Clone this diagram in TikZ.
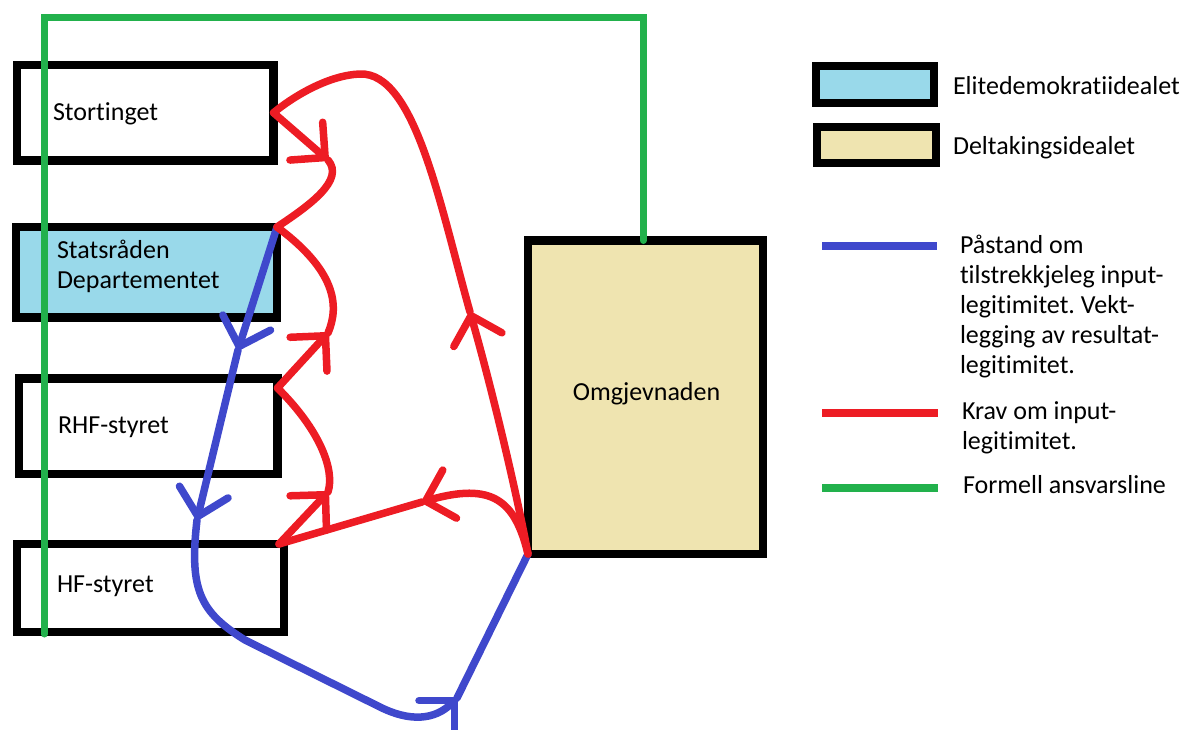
\documentclass[tikz,border=0pt]{standalone}
\usepackage{fontspec}
\setmainfont{Carlito}[Ligatures={NoCommon,NoContextual}]
\usetikzlibrary{arrows.meta}

\definecolor{pRed}{HTML}{ED1C24}
\definecolor{pBlue}{HTML}{3F48CC}
\definecolor{pGreen}{HTML}{22B14C}
\definecolor{eliteFill}{HTML}{99D9EA}
\definecolor{deltaFill}{HTML}{EFE4B0}

\tikzset{
  paintbarb/.tip={Straight Barb[length=25pt, width=50pt, round]},
  box/.style={draw=black, line width=8.5pt, inner sep=0pt, outer sep=0pt, line join=miter},
  txt/.style={inner sep=0pt, outer sep=0pt, anchor=base west, font=\fontsize{26}{30}\selectfont},
  redline/.style={draw=pRed, line width=7.5pt, line cap=round, line join=round},
  blueline/.style={draw=pBlue, line width=7.5pt, line cap=round, line join=round},
  greenline/.style={draw=pGreen, line width=7pt, line cap=round, line join=miter},
  keyline/.style={line width=8pt, line cap=butt},
}

\begin{document}
\frenchspacing
\begin{tikzpicture}[x=1pt, y=-1pt]
\useasboundingbox (0,0) rectangle (1185,729);

% organisation boxes
\node[box, minimum width=256.5pt, minimum height=95.5pt] (sto) at (145.25,112.75) {};
\node[box, fill=eliteFill, minimum width=261pt, minimum height=90.5pt] (sta) at (146.5,272.25) {};
\node[box, minimum width=258.5pt, minimum height=95.5pt] (rhf) at (148.25,426.25) {};
\node[box, minimum width=267pt, minimum height=88pt] (hf) at (150.5,588) {};
\node[box, fill=deltaFill, minimum width=235pt, minimum height=313.5pt] (omg) at (645.5,397.25) {};

% box labels
\node[txt] (stoT) at (53,120) {Stortinget};
\node[txt] (staT1) at (57,258) {Statsråden};
\node[txt] (staT2) at (57,288) {Departementet};
\node[txt] (rhfT) at (58,433) {RHF-styret};
\node[txt] (hfT) at (57,592) {HF-styret};
\node[txt, anchor=base] (omgT) at (646.5,400) {Omgjevnaden};

% legend boxes
\node[box, fill=eliteFill, minimum width=118pt, minimum height=37pt] (kElite) at (875,84.5) {};
\node[box, fill=deltaFill, minimum width=119pt, minimum height=36pt] (kDelta) at (876.5,145) {};
\node[txt] (kEliteT) at (953,94) {Elitedemokratiidealet};
\node[txt] (kDeltaT) at (953,154) {Deltakingsidealet};

% legend lines
\coordinate (kB1) at (822,246);  \coordinate (kB2) at (937,246);
\coordinate (kR1) at (822,413);  \coordinate (kR2) at (938,413);
\coordinate (kG1) at (822,488);  \coordinate (kG2) at (938,488);
\draw[keyline, draw=pBlue] (kB1) -- (kB2);
\draw[keyline, draw=pRed] (kR1) -- (kR2);
\draw[keyline, draw=pGreen] (kG1) -- (kG2);

\node[txt] (kBT1) at (960,253) {Påstand om};
\node[txt] (kBT2) at (960,283) {tilstrekkjeleg input-};
\node[txt] (kBT3) at (960,313) {legitimitet. Vekt-};
\node[txt] (kBT4) at (960,343) {legging av resultat-};
\node[txt] (kBT5) at (960,373) {legitimitet.};
\node[txt] (kRT1) at (962,419) {Krav om input-};
\node[txt] (kRT2) at (962,449) {legitimitet.};
\node[txt] (kGT) at (963,493) {Formell ansvarsline};

% formal line of responsibility
\coordinate (gStart) at (44,634);
\draw[greenline] (gStart) |- (643,17) -- ([xshift=-2.5pt]omg.north);

% arrow apex points
\coordinate (A1) at (470,312);
\coordinate (A2) at (328,160);
\coordinate (A3) at (328,333);
\coordinate (A4) at (328,492);
\coordinate (A5) at (422,502);
\coordinate (B1) at (238,350);
\coordinate (B2) at (197,520);
\coordinate (B3) at (457,698);
\coordinate (rhfK) at ([yshift=-9.5pt]rhf.north east);
\coordinate (hfK) at ([xshift=-5pt]hf.north east);

% claims of sufficient input legitimacy
\draw[blueline, -paintbarb] (sta.north east) -- (B1);
\draw[blueline, -paintbarb] (B1) -- (B2);
\draw[blueline, -paintbarb] (B2) .. controls (189,590) and (200,612) .. (245,640)
  -- (380,707) .. controls (410,722) and (435,720) .. (B3);
\draw[blueline] (B3) -- (omg.south west);

% demands for input legitimacy
\draw[redline, -paintbarb] (omg.south west) .. controls (518,500) and (495,400) .. (A1);
\draw[redline] (A1) .. controls (440,205) and (415,72) .. (360,74)
  .. controls (330,75) and (295,95) .. (sto.east);
\draw[redline, -paintbarb] (sto.east) -- (A2);
\draw[redline] (A2) .. controls (345,180) and (310,205) .. (sta.north east);
\draw[redline, -paintbarb] (rhfK) -- (A3);
\draw[redline] (A3) .. controls (340,305) and (335,270) .. (sta.north east);
\draw[redline, -paintbarb] (hfK) -- (A4);
\draw[redline] (A4) .. controls (335,470) and (320,430) .. (rhfK);
\draw[redline, -paintbarb] (omg.south west) .. controls (515,500) and (492,482) .. (A5);
\draw[redline] (A5) -- (hfK);
\end{tikzpicture}
\end{document}
